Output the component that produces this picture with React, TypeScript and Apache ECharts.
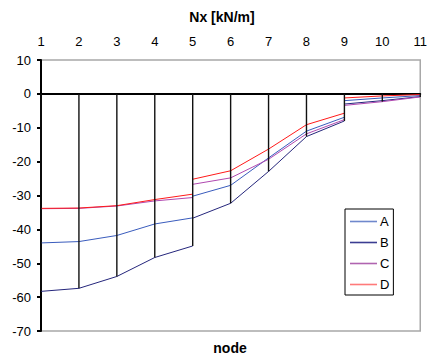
import React, { useEffect, useRef } from "react";
import * as echarts from "echarts";

// Node numbers along the top axis
const nodes = [1, 2, 3, 4, 5, 6, 7, 8, 9, 10, 11];

// Each load case is drawn in three separate segments of nodes
const segmentNodes = [
  [1, 2, 3, 4, 5],
  [5, 6, 7, 8, 9],
  [9, 10, 11],
];

// Nx [kN/m] per segment
const caseA = [
  [-44.0, -43.6, -41.8, -38.4, -36.6],
  [-30.2, -27.0, -18.9, -11.0, -6.9],
  [-2.0, -1.2, -0.5],
];
const caseB = [
  [-58.3, -57.4, -53.9, -48.3, -44.9],
  [-36.7, -32.3, -22.9, -12.6, -8.0],
  [-3.0, -2.0, -0.8],
];
const caseC = [
  [-33.9, -33.8, -33.1, -31.6, -30.6],
  [-26.7, -24.8, -19.3, -11.8, -7.6],
  [-3.4, -2.3, -0.9],
];
const caseD = [
  [-33.8, -33.7, -33.0, -31.2, -29.6],
  [-25.2, -22.7, -16.3, -9.1, -5.7],
  [-1.2, -0.6, -0.2],
];

const yTicks = { min: -70, max: 10, interval: 10 };

const cases = [
  { name: "A", values: caseA, color: "#3a5cbd", key: "#6f88cc" },
  { name: "B", values: caseB, color: "#25267c", key: "#3b3d92" },
  { name: "C", values: caseC, color: "#b048b0", key: "#b064b0" },
  { name: "D", values: caseD, color: "#ff1a1a", key: "#ff7a7a" },
];

const FONT = "'Liberation Sans', Arial, sans-serif";

export default function App() {
  const ref = useRef<HTMLDivElement>(null);

  useEffect(() => {
    if (!ref.current) return;
    const chart = echarts.init(ref.current, undefined, { renderer: "svg" });

    // lowest value reached at each node, for the vertical drop lines
    const lowest = nodes.map((n) => {
      let m = 0;
      cases.forEach((c) =>
        segmentNodes.forEach((seg, si) => {
          const idx = seg.indexOf(n);
          if (idx >= 0) m = Math.min(m, c.values[si][idx]);
        })
      );
      return [n, m];
    });

    const lineSeries: any[] = [];
    cases.forEach((c) => {
      segmentNodes.forEach((seg, si) => {
        lineSeries.push({
          type: "line",
          name: c.name,
          xAxisIndex: 0,
          data: seg.map((n, i) => [n, c.values[si][i]]),
          symbol: "none",
          color: c.color,
          lineStyle: { color: c.color, width: 1 },
          z: 2,
        });
      });
    });

    chart.setOption({
      animation: false,
      textStyle: { fontFamily: FONT },
      grid: {
        left: 41,
        right: 9,
        top: 60,
        bottom: 30,
        show: true,
        borderColor: "#a8a8a8",
        borderWidth: 1.5,
        backgroundColor: "#fff",
      },
      legend: {
        data: cases.map((c) => ({ name: c.name, itemStyle: { color: c.key } })),
        icon: "rect",
        orient: "vertical",
        left: 345,
        top: 209,
        itemWidth: 27,
        itemHeight: 1.6,
        itemGap: 6,
        padding: [5, 4, 3, 5],
        borderColor: "#000",
        borderWidth: 1,
        backgroundColor: "#fff",
        textStyle: {
          fontSize: 13,
          color: "#000",
          fontFamily: FONT,
          lineHeight: 15,
          padding: [0, 0, 0, -2],
        },
      },
      xAxis: [
        {
          type: "value",
          position: "top",
          min: 1,
          max: 11,
          interval: 1,
          axisLine: { show: false, onZero: false },
          axisTick: { show: false },
          splitLine: { show: false },
          axisLabel: { color: "#000", fontSize: 13, margin: 12, fontFamily: FONT },
        },
        {
          type: "value",
          position: "bottom",
          min: 1,
          max: 11,
          interval: 1,
          axisLine: { show: true, onZero: true, lineStyle: { color: "#000", width: 2 } },
          axisTick: { show: false },
          axisLabel: { show: false },
          splitLine: { show: false },
        },
      ],
      yAxis: {
        type: "value",
        min: yTicks.min,
        max: yTicks.max,
        interval: yTicks.interval,
        axisLine: { show: true, lineStyle: { color: "#000", width: 2 } },
        axisTick: { show: true, length: 4, lineStyle: { color: "#000", width: 2 } },
        splitLine: { show: false },
        axisLabel: { color: "#000", fontSize: 13, margin: 10, fontFamily: FONT },
      },
      graphic: [
        {
          type: "text",
          x: 222,
          y: 17,
          style: {
            text: "Nx [kN/m]",
            fontSize: 14,
            fontWeight: "bold",
            fontFamily: FONT,
            fill: "#000",
            textAlign: "center",
            textVerticalAlign: "middle",
          },
        },
        {
          type: "text",
          x: 230,
          y: 348,
          style: {
            text: "node",
            fontSize: 14,
            fontWeight: "bold",
            fontFamily: FONT,
            fill: "#000",
            textAlign: "center",
            textVerticalAlign: "middle",
          },
        },
      ],
      series: [
        {
          type: "bar",
          name: "drop",
          xAxisIndex: 0,
          data: lowest,
          barWidth: 1.4,
          itemStyle: { color: "#111" },
          z: 3,
        },
        ...lineSeries,
      ],
    });

    return () => chart.dispose();
  }, []);

  return (
    <div
      ref={ref}
      style={{ position: "absolute", left: 0, top: 0, width: 430, height: 361, background: "#fff" }}
    />
  );
}
